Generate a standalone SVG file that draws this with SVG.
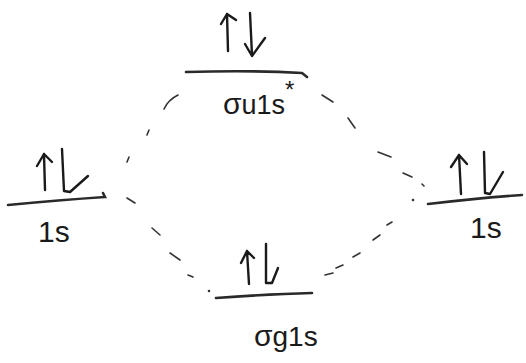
<svg xmlns="http://www.w3.org/2000/svg" width="526" height="363" viewBox="0 0 526 363">
<style>
.lvl{fill:none;stroke:#2a2a2a;stroke-width:2.6;stroke-linecap:round}
.arr{fill:none;stroke:#1a1a1a;stroke-width:2.4;stroke-linecap:round;stroke-linejoin:round}
.dash{fill:none;stroke:#333;stroke-width:1.6;stroke-linecap:round}
.lbl{font-family:"Liberation Sans",Arial,sans-serif;fill:#1a1a1a;font-size:30px}
</style>
<rect width="526" height="363" fill="#fff"/>
<g id="sigma_u_1s_star">
<path class="lvl" d="M186 72 Q250 70 302 73 L307 77"/>
<path class="arr" d="M228 51 L227 14 M221 24 L227 14 L236 20"/>
<path class="arr" d="M250 13 L252 55 M245 44 L252 56 L265 38"/>
<text class="lbl" x="223" y="114">σ<tspan font-size="27">u1s</tspan><tspan font-size="24" dy="-16">*</tspan></text>
</g>
<g id="left_1s">
<path class="lvl" d="M8 205 Q60 200 105 197 L103 193"/>
<path class="arr" d="M45 190 L44 154 M37 166 L44 154 L52 162"/>
<path class="arr" d="M62 149 L64 191 L70 192 L88 176"/>
<text class="lbl" x="38" y="242">1s</text>
</g>
<g id="right_1s">
<path class="lvl" d="M428 204 Q480 198 522 195"/>
<path class="arr" d="M461 194 L459 155 M451 167 L459 155 L467 164"/>
<path class="arr" d="M484 152 L485 193 L490 194 L503 172"/>
<text class="lbl" x="470" y="238">1s</text>
</g>
<g id="sigma_g_1s">
<path class="lvl" d="M216 298 Q270 294 312 293"/>
<path class="arr" d="M249 284 L247 251 M241 263 L247 251 L254 258"/>
<path class="arr" d="M266 244 L266 283 L272 283 L278 268"/>
<text class="lbl" x="254" y="346">σ<tspan font-size="28">g1s</tspan></text>
</g>
<g id="connectors">
<path class="dash" d="M127 162 L129 157"/>
<path class="dash" d="M147 135 L149 130"/>
<path class="dash" d="M164 109 Q168 100 178 95"/>
<path class="dash" d="M322 95 L333 102"/>
<path class="dash" d="M348 118 L355 128"/>
<path class="dash" d="M378 152 L391 157"/>
<path class="dash" d="M403 173 L412 177"/>
<path class="dash" d="M422 184 L424 186"/>
<path class="dash" d="M127 198 L135 203"/>
<path class="dash" d="M152 228 L160 235"/>
<path class="dash" d="M170 253 L180 260"/>
<path class="dash" d="M188 275 L193 277"/>
<circle cx="209" cy="291" r="1.3" fill="#333"/>
<path class="dash" d="M325 275 L333 273"/>
<path class="dash" d="M336 268 L343 265"/>
<path class="dash" d="M353 257 L360 253"/>
<path class="dash" d="M373 240 L380 235"/>
<path class="dash" d="M387 225 L392 222"/>
<circle cx="413" cy="200" r="1.3" fill="#333"/>
</g>
</svg>
